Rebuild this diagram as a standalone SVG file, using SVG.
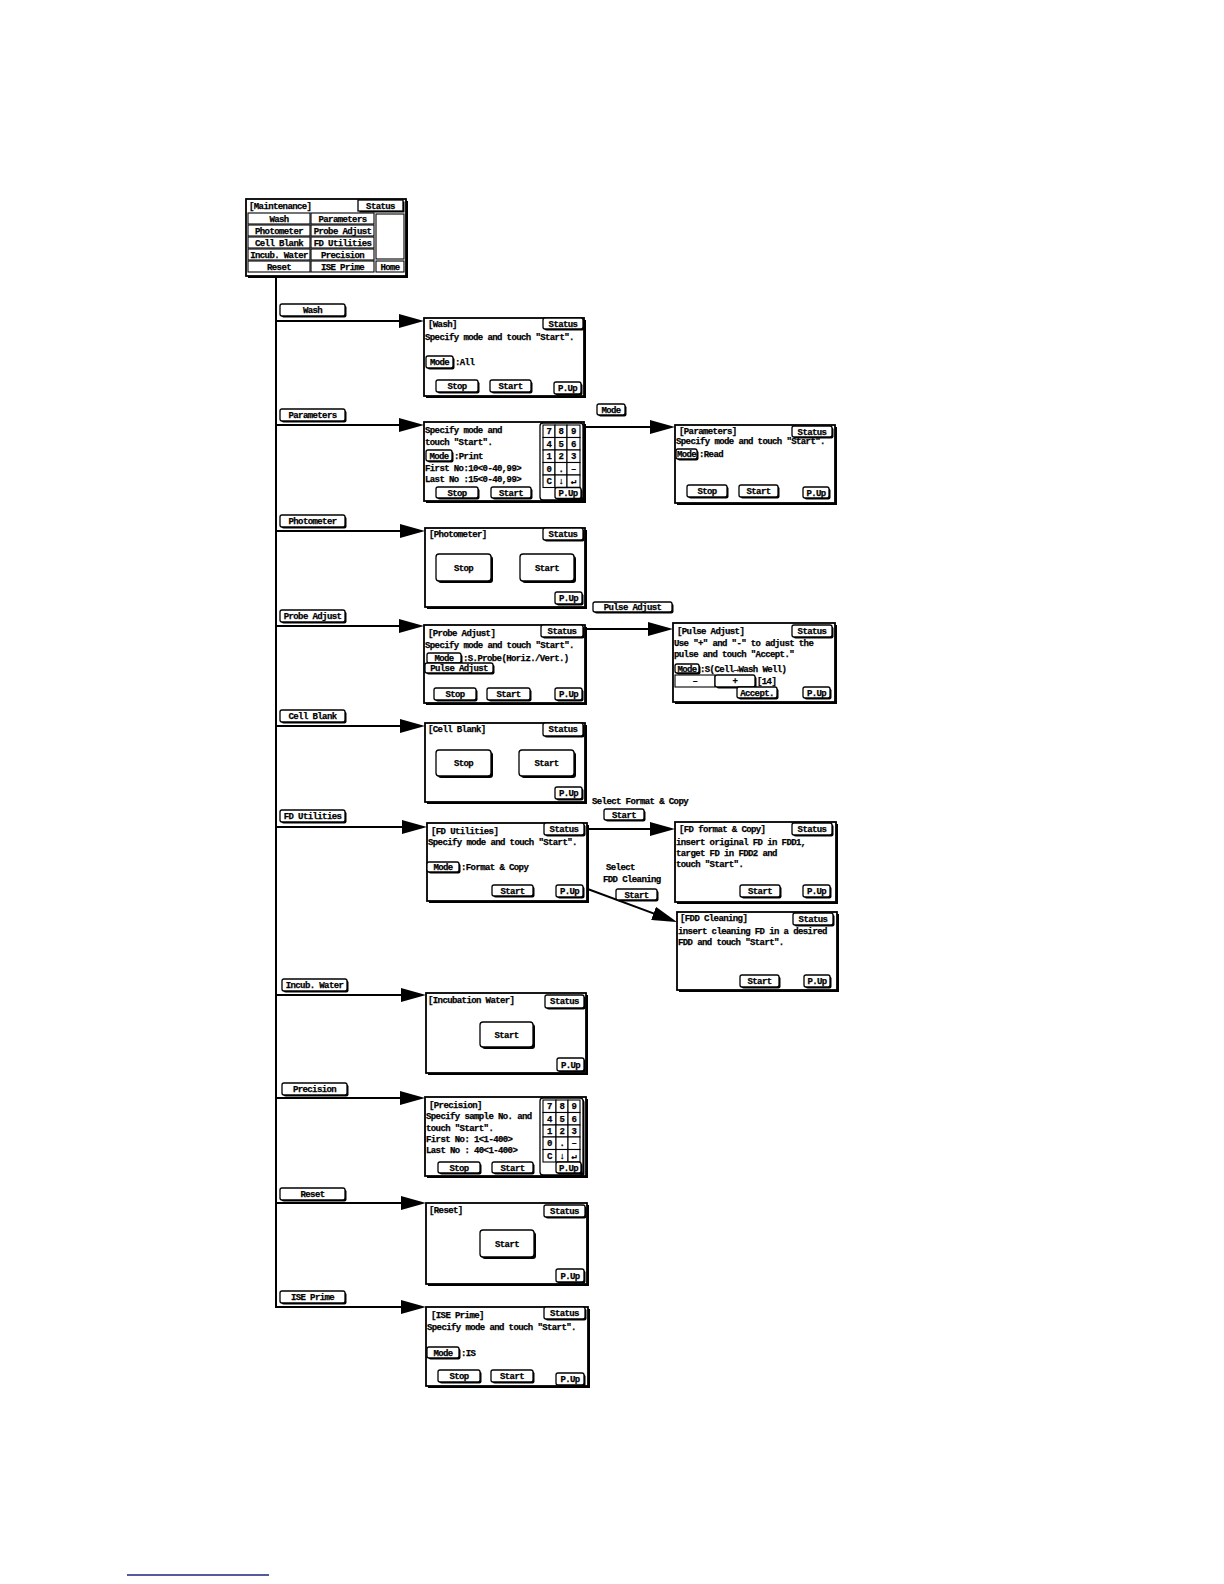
<svg xmlns="http://www.w3.org/2000/svg" width="1224" height="1584" viewBox="0 0 1224 1584">
<style>
.t{font-family:"Liberation Mono","DejaVu Sans Mono",monospace;font-size:9px;letter-spacing:-0.6px;font-weight:bold;fill:#000;stroke:#000;stroke-width:0.25}
.m{text-anchor:middle}
.fr{fill:#fff;stroke:#000;stroke-width:1.8}
.sd{fill:#000}
.bt{fill:#fff;stroke:#000;stroke-width:1.3}
.k{fill:#fff;stroke:#000;stroke-width:1.1}
.cn{stroke:#000;stroke-width:2;fill:none}
</style>
<defs>
<marker id="ah" markerUnits="userSpaceOnUse" markerWidth="26" markerHeight="14" viewBox="0 0 26 14" refX="15" refY="7" orient="auto"><path d="M0,0 L25,7 L0,14 z" fill="#000"/></marker>
</defs>
<rect width="1224" height="1584" fill="#fff"/>

<g id="connectors">
<line class="cn" x1="276" y1="276" x2="276" y2="1308"/>
<line class="cn" x1="275" y1="321" x2="414" y2="321" marker-end="url(#ah)"/>
<line class="cn" x1="275" y1="425" x2="414" y2="425" marker-end="url(#ah)"/>
<line class="cn" x1="275" y1="531" x2="415" y2="531" marker-end="url(#ah)"/>
<line class="cn" x1="275" y1="626" x2="414" y2="626" marker-end="url(#ah)"/>
<line class="cn" x1="275" y1="726" x2="415" y2="726" marker-end="url(#ah)"/>
<line class="cn" x1="275" y1="827" x2="417" y2="827" marker-end="url(#ah)"/>
<line class="cn" x1="275" y1="995" x2="416" y2="995" marker-end="url(#ah)"/>
<line class="cn" x1="275" y1="1098" x2="415" y2="1098" marker-end="url(#ah)"/>
<line class="cn" x1="275" y1="1203" x2="416" y2="1203" marker-end="url(#ah)"/>
<line class="cn" x1="275" y1="1307" x2="416" y2="1307" marker-end="url(#ah)"/>
<line class="cn" x1="586" y1="427" x2="665" y2="427" marker-end="url(#ah)"/>
<line class="cn" x1="586" y1="629" x2="663" y2="629" marker-end="url(#ah)"/>
<line class="cn" x1="588" y1="829" x2="665" y2="829" marker-end="url(#ah)"/>
<line class="cn" x1="585" y1="888" x2="667.6" y2="918.6" marker-end="url(#ah)"/>
</g>

<g id="menu">
<rect class="sd" x="248" y="201" width="160" height="77"/>
<rect class="fr" x="246" y="199" width="160" height="77"/>
<text class="t" x="249" y="209">[Maintenance]</text>
<rect class="sd" x="359.5" y="201.5" width="45" height="11"/>
<rect class="bt" x="358" y="200" width="45" height="11"/>
<text class="t m" x="380.5" y="208.5">Status</text>
<rect class="k" x="248" y="213" width="62" height="11"/><text class="t m" x="279" y="221.5">Wash</text>
<rect class="k" x="311" y="213" width="63" height="11"/><text class="t m" x="342.5" y="221.5">Parameters</text>
<rect class="k" x="248" y="225" width="62" height="11"/><text class="t m" x="279" y="233.5">Photometer</text>
<rect class="k" x="311" y="225" width="63" height="11"/><text class="t m" x="342.5" y="233.5">Probe Adjust</text>
<rect class="k" x="248" y="237" width="62" height="11"/><text class="t m" x="279" y="245.5">Cell Blank</text>
<rect class="k" x="311" y="237" width="63" height="11"/><text class="t m" x="342.5" y="245.5">FD Utilities</text>
<rect class="k" x="248" y="249" width="62" height="11"/><text class="t m" x="279" y="257.5">Incub. Water</text>
<rect class="k" x="311" y="249" width="63" height="11"/><text class="t m" x="342.5" y="257.5">Precision</text>
<rect class="k" x="248" y="261" width="62" height="11"/><text class="t m" x="279" y="269.5">Reset</text>
<rect class="k" x="311" y="261" width="63" height="11"/><text class="t m" x="342.5" y="269.5">ISE Prime</text>
<rect class="k" x="376" y="214" width="28" height="45"/>
<rect class="k" x="376" y="261" width="28" height="11"/><text class="t m" x="390" y="269.5">Home</text>
</g>

<g id="btn-wash"><rect class="sd" x="281.5" y="305.5" width="65" height="12" rx="2"/><rect class="bt" x="280" y="304" width="65" height="12" rx="2"/><text class="t m" x="312.5" y="313">Wash</text></g>
<g id="btn-parameters"><rect class="sd" x="281.5" y="410.5" width="65" height="12" rx="2"/><rect class="bt" x="280" y="409" width="65" height="12" rx="2"/><text class="t m" x="312.5" y="418">Parameters</text></g>
<g id="btn-photometer"><rect class="sd" x="281.5" y="516.5" width="65" height="12" rx="2"/><rect class="bt" x="280" y="515" width="65" height="12" rx="2"/><text class="t m" x="312.5" y="524">Photometer</text></g>
<g id="btn-probe"><rect class="sd" x="281.5" y="611.5" width="65" height="12" rx="2"/><rect class="bt" x="280" y="610" width="65" height="12" rx="2"/><text class="t m" x="312.5" y="619">Probe Adjust</text></g>
<g id="btn-cellblank"><rect class="sd" x="281.5" y="711.5" width="65" height="12" rx="2"/><rect class="bt" x="280" y="710" width="65" height="12" rx="2"/><text class="t m" x="312.5" y="719">Cell Blank</text></g>
<g id="btn-fd"><rect class="sd" x="281.5" y="811.5" width="65" height="12" rx="2"/><rect class="bt" x="280" y="810" width="65" height="12" rx="2"/><text class="t m" x="312.5" y="819">FD Utilities</text></g>
<g id="btn-incub"><rect class="sd" x="283.5" y="980.5" width="65" height="12" rx="2"/><rect class="bt" x="282" y="979" width="65" height="12" rx="2"/><text class="t m" x="314.5" y="988">Incub. Water</text></g>
<g id="btn-precision"><rect class="sd" x="283.5" y="1084.5" width="65" height="12" rx="2"/><rect class="bt" x="282" y="1083" width="65" height="12" rx="2"/><text class="t m" x="314.5" y="1092">Precision</text></g>
<g id="btn-reset"><rect class="sd" x="281.5" y="1189.5" width="65" height="12" rx="2"/><rect class="bt" x="280" y="1188" width="65" height="12" rx="2"/><text class="t m" x="312.5" y="1197">Reset</text></g>
<g id="btn-ise"><rect class="sd" x="281.5" y="1292.5" width="65" height="12" rx="2"/><rect class="bt" x="280" y="1291" width="65" height="12" rx="2"/><text class="t m" x="312.5" y="1300">ISE Prime</text></g>

<g id="screen-wash">
<rect class="sd" x="426" y="320" width="160" height="78"/><rect class="fr" x="424" y="318" width="160" height="78"/>
<text class="t" x="428" y="327">[Wash]</text>
<rect class="sd" x="544.5" y="319.5" width="40" height="11" rx="2"/><rect class="bt" x="543" y="318" width="40" height="11" rx="2"/><text class="t m" x="563" y="326.5">Status</text>
<text class="t" x="425" y="340">Specify mode and touch &quot;Start&quot;.</text>
<rect class="sd" x="427.5" y="357.5" width="27" height="12" rx="2"/><rect class="bt" x="426" y="356" width="27" height="12" rx="2"/><text class="t m" x="439.5" y="365">Mode</text>
<text class="t" x="455" y="365">:All</text>
<rect class="sd" x="437.5" y="381.5" width="42" height="12" rx="2"/><rect class="bt" x="436" y="380" width="42" height="12" rx="2"/><text class="t m" x="457" y="389">Stop</text>
<rect class="sd" x="491.5" y="381.5" width="41" height="12" rx="2"/><rect class="bt" x="490" y="380" width="41" height="12" rx="2"/><text class="t m" x="510.5" y="389">Start</text>
<rect class="sd" x="555.5" y="383.5" width="27" height="12" rx="2"/><rect class="bt" x="554" y="382" width="27" height="12" rx="2"/><text class="t m" x="567.5" y="391">P.Up</text>
</g>

<g id="screen-parameters">
<rect class="sd" x="426" y="424" width="160" height="79"/><rect class="fr" x="424" y="422" width="160" height="79"/>
<text class="t" x="425" y="433">Specify mode and</text>
<text class="t" x="425" y="445">touch &quot;Start&quot;.</text>
<rect class="sd" x="427.5" y="451.5" width="26" height="11" rx="2"/><rect class="bt" x="426" y="450" width="26" height="11" rx="2"/><text class="t m" x="439" y="458.5">Mode</text>
<text class="t" x="454" y="458.5">:Print</text>
<text class="t" x="425" y="471">First No:10&lt;0-40,99&gt;</text>
<text class="t" x="425" y="482">Last No :15&lt;0-40,99&gt;</text>
<rect class="sd" x="437.5" y="488.5" width="42" height="11" rx="2"/><rect class="bt" x="436" y="487" width="42" height="11" rx="2"/><text class="t m" x="457" y="495.5">Stop</text>
<rect class="sd" x="492.5" y="488.5" width="40" height="11" rx="2"/><rect class="bt" x="491" y="487" width="40" height="11" rx="2"/><text class="t m" x="511" y="495.5">Start</text>
<rect class="sd" x="541.5" y="424.5" width="43" height="77" rx="3"/><rect class="bt" x="540" y="423" width="43" height="77" rx="3"/>
<rect class="k" x="543" y="425" width="12" height="12.5"/><text class="t m" x="549" y="434">7</text>
<rect class="k" x="555" y="425" width="12" height="12.5"/><text class="t m" x="561" y="434">8</text>
<rect class="k" x="567" y="425" width="13" height="12.5"/><text class="t m" x="573.5" y="434">9</text>
<rect class="k" x="543" y="437.5" width="12" height="12.5"/><text class="t m" x="549" y="446.5">4</text>
<rect class="k" x="555" y="437.5" width="12" height="12.5"/><text class="t m" x="561" y="446.5">5</text>
<rect class="k" x="567" y="437.5" width="13" height="12.5"/><text class="t m" x="573.5" y="446.5">6</text>
<rect class="k" x="543" y="450" width="12" height="12.5"/><text class="t m" x="549" y="459">1</text>
<rect class="k" x="555" y="450" width="12" height="12.5"/><text class="t m" x="561" y="459">2</text>
<rect class="k" x="567" y="450" width="13" height="12.5"/><text class="t m" x="573.5" y="459">3</text>
<rect class="k" x="543" y="462.5" width="12" height="12.5"/><text class="t m" x="549" y="471.5">0</text>
<rect class="k" x="555" y="462.5" width="12" height="12.5"/><text class="t m" x="561" y="471.5">.</text>
<rect class="k" x="567" y="462.5" width="13" height="12.5"/><text class="t m" x="573.5" y="471.5">–</text>
<rect class="k" x="543" y="475" width="12" height="12.5"/><text class="t m" x="549" y="484">C</text>
<rect class="k" x="555" y="475" width="12" height="12.5"/><text class="t m" x="561" y="484">↓</text>
<rect class="k" x="567" y="475" width="13" height="12.5"/><text class="t m" x="573.5" y="484">↵</text>
<rect class="sd" x="556.5" y="489" width="26" height="11" rx="2"/><rect class="bt" x="555" y="487.5" width="26" height="11" rx="2"/><text class="t m" x="568" y="496">P.Up</text>
</g>

<g id="label-mode"><rect class="sd" x="598.5" y="405.5" width="28" height="11" rx="2"/><rect class="bt" x="597" y="404" width="28" height="11" rx="2"/><text class="t m" x="611" y="412.5">Mode</text></g>

<g id="screen-parameters-read">
<rect class="sd" x="677" y="427" width="160" height="78"/><rect class="fr" x="675" y="425" width="160" height="78"/>
<text class="t" x="679" y="434">[Parameters]</text>
<rect class="sd" x="793.5" y="427.5" width="40" height="11" rx="2"/><rect class="bt" x="792" y="426" width="40" height="11" rx="2"/><text class="t m" x="812" y="434.5">Status</text>
<text class="t" x="676" y="444">Specify mode and touch &quot;Start&quot;.</text>
<rect class="sd" x="677.5" y="450.5" width="21" height="10" rx="2"/><rect class="bt" x="676" y="449" width="21" height="10" rx="2"/><text class="t m" x="686.5" y="457">Mode</text>
<text class="t" x="699" y="457">:Read</text>
<rect class="sd" x="688.5" y="486.5" width="40" height="12" rx="2"/><rect class="bt" x="687" y="485" width="40" height="12" rx="2"/><text class="t m" x="707" y="494">Stop</text>
<rect class="sd" x="740.5" y="486.5" width="39" height="12" rx="2"/><rect class="bt" x="739" y="485" width="39" height="12" rx="2"/><text class="t m" x="758.5" y="494">Start</text>
<rect class="sd" x="804.5" y="488.5" width="26" height="11" rx="2"/><rect class="bt" x="803" y="487" width="26" height="11" rx="2"/><text class="t m" x="816" y="495.5">P.Up</text>
</g>

<g id="screen-photometer">
<rect class="sd" x="427" y="530" width="160" height="79"/><rect class="fr" x="425" y="528" width="160" height="79"/>
<text class="t" x="429" y="537">[Photometer]</text>
<rect class="sd" x="544.5" y="529.5" width="40" height="12" rx="2"/><rect class="bt" x="543" y="528" width="40" height="12" rx="2"/><text class="t m" x="563" y="537">Status</text>
<rect class="sd" x="438" y="556" width="55" height="27" rx="3"/><rect class="bt" x="436" y="554" width="55" height="27" rx="3"/><text class="t m" x="463.5" y="570.5">Stop</text>
<rect class="sd" x="522" y="556" width="54" height="27" rx="3"/><rect class="bt" x="520" y="554" width="54" height="27" rx="3"/><text class="t m" x="547" y="570.5">Start</text>
<rect class="sd" x="556.5" y="593.5" width="27" height="12" rx="2"/><rect class="bt" x="555" y="592" width="27" height="12" rx="2"/><text class="t m" x="568.5" y="601">P.Up</text>
</g>

<g id="screen-probe-adjust">
<rect class="sd" x="426" y="627" width="161" height="78"/><rect class="fr" x="424" y="625" width="161" height="78"/>
<text class="t" x="428" y="636">[Probe Adjust]</text>
<rect class="sd" x="542.5" y="626.5" width="42" height="12" rx="2"/><rect class="bt" x="541" y="625" width="42" height="12" rx="2"/><text class="t m" x="562" y="634">Status</text>
<text class="t" x="425" y="648">Specify mode and touch &quot;Start&quot;.</text>
<rect class="sd" x="428.5" y="654.5" width="34" height="10" rx="2"/><rect class="bt" x="427" y="653" width="34" height="10" rx="2"/><text class="t m" x="444" y="661">Mode</text>
<text class="t" x="463" y="661">:S.Probe(Horiz./Vert.)</text>
<rect class="sd" x="426.5" y="664.5" width="68" height="10" rx="2"/><rect class="bt" x="425" y="663" width="68" height="10" rx="2"/><text class="t m" x="459" y="671">Pulse Adjust</text>
<rect class="sd" x="435.5" y="689.5" width="42" height="12" rx="2"/><rect class="bt" x="434" y="688" width="42" height="12" rx="2"/><text class="t m" x="455" y="697">Stop</text>
<rect class="sd" x="488.5" y="689.5" width="43" height="12" rx="2"/><rect class="bt" x="487" y="688" width="43" height="12" rx="2"/><text class="t m" x="508.5" y="697">Start</text>
<rect class="sd" x="556.5" y="689.5" width="27" height="12" rx="2"/><rect class="bt" x="555" y="688" width="27" height="12" rx="2"/><text class="t m" x="568.5" y="697">P.Up</text>
</g>

<g id="label-pulse-adjust"><rect class="sd" x="594.5" y="603.5" width="79" height="10" rx="2"/><rect class="bt" x="593" y="602" width="79" height="10" rx="2"/><text class="t m" x="632.5" y="610">Pulse Adjust</text></g>

<g id="screen-pulse-adjust">
<rect class="sd" x="675" y="625" width="162" height="79"/><rect class="fr" x="673" y="623" width="162" height="79"/>
<text class="t" x="677" y="634">[Pulse Adjust]</text>
<rect class="sd" x="793.5" y="626.5" width="40" height="12" rx="2"/><rect class="bt" x="792" y="625" width="40" height="12" rx="2"/><text class="t m" x="812" y="634">Status</text>
<text class="t" x="674" y="646">Use &quot;+&quot; and &quot;-&quot; to adjust the</text>
<text class="t" x="674" y="657">pulse and touch &quot;Accept.&quot;</text>
<rect class="sd" x="676.5" y="665.5" width="24" height="9" rx="2"/><rect class="bt" x="675" y="664" width="24" height="9" rx="2"/><text class="t m" x="687" y="671.5">Mode</text>
<text class="t" x="700" y="672">:S(Cell→Wash Well)</text>
<rect class="k" x="675" y="675" width="40" height="12"/><text class="t m" x="695" y="684">–</text>
<rect class="sd" x="716.5" y="676.5" width="40" height="12" rx="2"/><rect class="bt" x="715" y="675" width="40" height="12" rx="2"/><text class="t m" x="735" y="684">+</text>
<text class="t" x="757" y="684">[14]</text>
<rect class="sd" x="738.5" y="688.5" width="40" height="11" rx="2"/><rect class="bt" x="737" y="687" width="40" height="11" rx="2"/><text class="t m" x="757" y="695.5">Accept.</text>
<rect class="sd" x="804.5" y="688.5" width="27" height="11" rx="2"/><rect class="bt" x="803" y="687" width="27" height="11" rx="2"/><text class="t m" x="816.5" y="695.5">P.Up</text>
</g>

<g id="screen-cell-blank">
<rect class="sd" x="427" y="725" width="160" height="79"/><rect class="fr" x="425" y="723" width="160" height="79"/>
<text class="t" x="428" y="732">[Cell Blank]</text>
<rect class="sd" x="544.5" y="724.5" width="40" height="13" rx="2"/><rect class="bt" x="543" y="723" width="40" height="13" rx="2"/><text class="t m" x="563" y="732">Status</text>
<rect class="sd" x="438" y="752" width="55" height="26" rx="3"/><rect class="bt" x="436" y="750" width="55" height="26" rx="3"/><text class="t m" x="463.5" y="766">Stop</text>
<rect class="sd" x="521" y="752" width="55" height="26" rx="3"/><rect class="bt" x="519" y="750" width="55" height="26" rx="3"/><text class="t m" x="546.5" y="766">Start</text>
<rect class="sd" x="556.5" y="788.5" width="27" height="12" rx="2"/><rect class="bt" x="555" y="787" width="27" height="12" rx="2"/><text class="t m" x="568.5" y="796">P.Up</text>
</g>

<g id="screen-fd-utilities">
<rect class="sd" x="429" y="825" width="160" height="78"/><rect class="fr" x="427" y="823" width="160" height="78"/>
<text class="t" x="431" y="834">[FD Utilities]</text>
<rect class="sd" x="545.5" y="824.5" width="40" height="12" rx="2"/><rect class="bt" x="544" y="823" width="40" height="12" rx="2"/><text class="t m" x="564" y="832">Status</text>
<text class="t" x="428" y="845">Specify mode and touch &quot;Start&quot;.</text>
<rect class="sd" x="428.5" y="863.5" width="32" height="10" rx="2"/><rect class="bt" x="427" y="862" width="32" height="10" rx="2"/><text class="t m" x="443" y="870">Mode</text>
<text class="t" x="461" y="870">:Format &amp; Copy</text>
<rect class="sd" x="493.5" y="886.5" width="41" height="11" rx="2"/><rect class="bt" x="492" y="885" width="41" height="11" rx="2"/><text class="t m" x="512.5" y="893.5">Start</text>
<rect class="sd" x="557.5" y="886.5" width="27" height="12" rx="2"/><rect class="bt" x="556" y="885" width="27" height="12" rx="2"/><text class="t m" x="569.5" y="894">P.Up</text>
</g>

<g id="label-select-format">
<text class="t" x="592" y="804">Select Format &amp; Copy</text>
<rect class="sd" x="605.5" y="810.5" width="40" height="11" rx="2"/><rect class="bt" x="604" y="809" width="40" height="11" rx="2"/><text class="t m" x="624" y="817.5">Start</text>
</g>

<g id="label-select-cleaning">
<text class="t" x="606" y="870">Select</text>
<text class="t" x="603" y="882">FDD Cleaning</text>
<rect class="sd" x="617.5" y="890.5" width="41" height="11" rx="2"/><rect class="bt" x="616" y="889" width="41" height="11" rx="2"/><text class="t m" x="636.5" y="897.5">Start</text>
</g>

<g id="screen-fd-format">
<rect class="sd" x="677" y="824" width="161" height="80"/><rect class="fr" x="675" y="822" width="161" height="80"/>
<text class="t" x="679" y="832">[FD format &amp; Copy]</text>
<rect class="sd" x="793.5" y="824.5" width="40" height="12" rx="2"/><rect class="bt" x="792" y="823" width="40" height="12" rx="2"/><text class="t m" x="812" y="832">Status</text>
<text class="t" x="676" y="845">insert original FD in FDD1,</text>
<text class="t" x="676" y="856">target FD in FDD2 and</text>
<text class="t" x="676" y="867">touch &quot;Start&quot;.</text>
<rect class="sd" x="741.5" y="886.5" width="40" height="12" rx="2"/><rect class="bt" x="740" y="885" width="40" height="12" rx="2"/><text class="t m" x="760" y="894">Start</text>
<rect class="sd" x="804.5" y="886.5" width="27" height="12" rx="2"/><rect class="bt" x="803" y="885" width="27" height="12" rx="2"/><text class="t m" x="816.5" y="894">P.Up</text>
</g>

<g id="screen-fdd-cleaning">
<rect class="sd" x="679" y="914" width="160" height="78"/><rect class="fr" x="677" y="912" width="160" height="78"/>
<text class="t" x="680" y="921">[FDD Cleaning]</text>
<rect class="sd" x="794.5" y="914.5" width="40" height="12" rx="2"/><rect class="bt" x="793" y="913" width="40" height="12" rx="2"/><text class="t m" x="813" y="922">Status</text>
<text class="t" x="678" y="934">insert cleaning FD in a desired</text>
<text class="t" x="678" y="945">FDD and touch &quot;Start&quot;.</text>
<rect class="sd" x="741.5" y="976.5" width="39" height="12" rx="2"/><rect class="bt" x="740" y="975" width="39" height="12" rx="2"/><text class="t m" x="759.5" y="984">Start</text>
<rect class="sd" x="805.5" y="976.5" width="26" height="12" rx="2"/><rect class="bt" x="804" y="975" width="26" height="12" rx="2"/><text class="t m" x="817" y="984">P.Up</text>
</g>

<g id="screen-incubation-water">
<rect class="sd" x="428" y="995" width="160" height="80"/><rect class="fr" x="426" y="993" width="160" height="80"/>
<text class="t" x="428" y="1003">[Incubation Water]</text>
<rect class="sd" x="546.5" y="996.5" width="39" height="13" rx="2"/><rect class="bt" x="545" y="995" width="39" height="13" rx="2"/><text class="t m" x="564.5" y="1004">Status</text>
<rect class="sd" x="482" y="1024" width="53" height="25" rx="3"/><rect class="bt" x="480" y="1022" width="53" height="25" rx="3"/><text class="t m" x="506.5" y="1037.5">Start</text>
<rect class="sd" x="558.5" y="1059.5" width="27" height="13" rx="2"/><rect class="bt" x="557" y="1058" width="27" height="13" rx="2"/><text class="t m" x="570.5" y="1067.5">P.Up</text>
</g>

<g id="screen-precision">
<rect class="sd" x="427" y="1099" width="161" height="79"/><rect class="fr" x="425" y="1097" width="161" height="79"/>
<text class="t" x="429" y="1108">[Precision]</text>
<text class="t" x="426" y="1119">Specify sample No. and</text>
<text class="t" x="426" y="1131">touch &quot;Start&quot;.</text>
<text class="t" x="426" y="1142">First No:  1&lt;1-400&gt;</text>
<text class="t" x="426" y="1153">Last No : 40&lt;1-400&gt;</text>
<rect class="sd" x="439.5" y="1163.5" width="42" height="11" rx="2"/><rect class="bt" x="438" y="1162" width="42" height="11" rx="2"/><text class="t m" x="459" y="1170.5">Stop</text>
<rect class="sd" x="493.5" y="1163.5" width="41" height="11" rx="2"/><rect class="bt" x="492" y="1162" width="41" height="11" rx="2"/><text class="t m" x="512.5" y="1170.5">Start</text>
<rect class="sd" x="541.5" y="1099.5" width="43" height="77" rx="3"/><rect class="bt" x="540" y="1098" width="43" height="77" rx="3"/>
<rect class="k" x="543" y="1100" width="13" height="12.5"/><text class="t m" x="549.5" y="1109">7</text>
<rect class="k" x="556" y="1100" width="12" height="12.5"/><text class="t m" x="562" y="1109">8</text>
<rect class="k" x="568" y="1100" width="12" height="12.5"/><text class="t m" x="574" y="1109">9</text>
<rect class="k" x="543" y="1112.5" width="13" height="12.5"/><text class="t m" x="549.5" y="1121.5">4</text>
<rect class="k" x="556" y="1112.5" width="12" height="12.5"/><text class="t m" x="562" y="1121.5">5</text>
<rect class="k" x="568" y="1112.5" width="12" height="12.5"/><text class="t m" x="574" y="1121.5">6</text>
<rect class="k" x="543" y="1125" width="13" height="12"/><text class="t m" x="549.5" y="1134">1</text>
<rect class="k" x="556" y="1125" width="12" height="12"/><text class="t m" x="562" y="1134">2</text>
<rect class="k" x="568" y="1125" width="12" height="12"/><text class="t m" x="574" y="1134">3</text>
<rect class="k" x="543" y="1137" width="13" height="12.5"/><text class="t m" x="549.5" y="1146">0</text>
<rect class="k" x="556" y="1137" width="12" height="12.5"/><text class="t m" x="562" y="1146">.</text>
<rect class="k" x="568" y="1137" width="12" height="12.5"/><text class="t m" x="574" y="1146">–</text>
<rect class="k" x="543" y="1149.5" width="13" height="12.5"/><text class="t m" x="549.5" y="1158.5">C</text>
<rect class="k" x="556" y="1149.5" width="12" height="12.5"/><text class="t m" x="562" y="1158.5">↓</text>
<rect class="k" x="568" y="1149.5" width="12" height="12.5"/><text class="t m" x="574" y="1158.5">↵</text>
<rect class="sd" x="557.5" y="1163.5" width="25" height="11" rx="2"/><rect class="bt" x="556" y="1162" width="25" height="11" rx="2"/><text class="t m" x="568.5" y="1170.5">P.Up</text>
</g>

<g id="screen-reset">
<rect class="sd" x="428" y="1205" width="161" height="81"/><rect class="fr" x="426" y="1203" width="161" height="81"/>
<text class="t" x="429" y="1213">[Reset]</text>
<rect class="sd" x="545.5" y="1206.5" width="41" height="12" rx="2"/><rect class="bt" x="544" y="1205" width="41" height="12" rx="2"/><text class="t m" x="564.5" y="1214">Status</text>
<rect class="sd" x="482" y="1232" width="54" height="27" rx="3"/><rect class="bt" x="480" y="1230" width="54" height="27" rx="3"/><text class="t m" x="507" y="1246.5">Start</text>
<rect class="sd" x="557.5" y="1270.5" width="28" height="13" rx="2"/><rect class="bt" x="556" y="1269" width="28" height="13" rx="2"/><text class="t m" x="570" y="1278.5">P.Up</text>
</g>

<g id="screen-ise-prime">
<rect class="sd" x="428" y="1309" width="162" height="79"/><rect class="fr" x="426" y="1307" width="162" height="79"/>
<text class="t" x="431" y="1318">[ISE Prime]</text>
<rect class="sd" x="545.5" y="1308.5" width="41" height="12" rx="2"/><rect class="bt" x="544" y="1307" width="41" height="12" rx="2"/><text class="t m" x="564.5" y="1316">Status</text>
<text class="t" x="427" y="1330">Specify mode and touch &quot;Start&quot;.</text>
<rect class="sd" x="428.5" y="1348.5" width="32" height="11" rx="2"/><rect class="bt" x="427" y="1347" width="32" height="11" rx="2"/><text class="t m" x="443" y="1355.5">Mode</text>
<text class="t" x="461" y="1356">:IS</text>
<rect class="sd" x="439.5" y="1371.5" width="42" height="12" rx="2"/><rect class="bt" x="438" y="1370" width="42" height="12" rx="2"/><text class="t m" x="459" y="1379">Stop</text>
<rect class="sd" x="492.5" y="1371.5" width="42" height="12" rx="2"/><rect class="bt" x="491" y="1370" width="42" height="12" rx="2"/><text class="t m" x="512" y="1379">Start</text>
<rect class="sd" x="557.5" y="1374.5" width="28" height="12" rx="2"/><rect class="bt" x="556" y="1373" width="28" height="12" rx="2"/><text class="t m" x="570" y="1382">P.Up</text>
</g>

<line x1="127" y1="1575" x2="269" y2="1575" stroke="#1a237e" stroke-width="1.5"/>
</svg>
